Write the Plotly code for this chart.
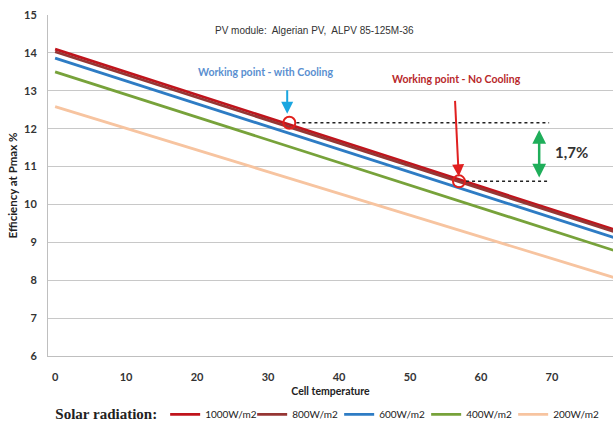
import numpy as np
import plotly.graph_objects as go

temps = [0, 10, 20, 30, 40, 50, 60, 70, 80]
eff_1000 = [14.10, 13.50, 12.89, 12.29, 11.68, 11.08, 10.47, 9.87, 9.26]
eff_800 = [14.03, 13.43, 12.82, 12.22, 11.62, 11.02, 10.41, 9.81, 9.21]
eff_600 = [13.86, 13.26, 12.66, 12.06, 11.46, 10.86, 10.25, 9.65, 9.05]
eff_400 = [13.50, 12.90, 12.30, 11.70, 11.10, 10.50, 9.90, 9.31, 8.71]
eff_200 = [12.58, 12.01, 11.43, 10.86, 10.29, 9.72, 9.14, 8.57, 8.00]

series_names = ["1000W/m2", "800W/m2", "600W/m2", "400W/m2", "200W/m2"]
series_vals = [eff_1000, eff_800, eff_600, eff_400, eff_200]
series_colors = ["#c0141c", "#963634", "#2e7cc4", "#77a23a", "#f7c4a0"]

wp_cool_T = 33.0
wp_nocool_T = 56.9
wp_cool_E = float(np.interp(wp_cool_T, temps, eff_1000)) + 0.05
wp_nocool_E = float(np.interp(wp_nocool_T, temps, eff_1000)) - 0.05
diff_label = "1,7%"
marker_end_T = 69.6
diff_T = 68.2

FONT = "Lato, Open Sans, Liberation Sans, sans-serif"

fig = go.Figure()
for name, vals, col in zip(series_names, series_vals, series_colors):
    fig.add_trace(go.Scatter(x=temps, y=vals, mode="lines", name=name,
                             line=dict(color=col, width=2.8)))

# working points (circles)
fig.add_trace(go.Scatter(x=[wp_cool_T, wp_nocool_T], y=[wp_cool_E, wp_nocool_E],
                         mode="markers", showlegend=False,
                         marker=dict(symbol="circle-open", size=12,
                                     color="#e0201c", line=dict(width=2, color="#e0201c"))))

# dotted reference lines
for T0, E0 in [(wp_cool_T, wp_cool_E), (wp_nocool_T, wp_nocool_E)]:
    fig.add_shape(type="line", x0=T0 + 1, x1=marker_end_T, y0=E0, y1=E0,
                  xref="x", yref="y", line=dict(color="#222222", width=1.5, dash="dot"))

ann_font = dict(family=FONT, size=10.5, weight=700)
fig.add_annotation(x=36.6, y=14.6, xref="x", yref="y", showarrow=False,
                   text="PV module:  Algerian PV,  ALPV 85-125M-36",
                   font=dict(family="Liberation Sans, Arial, sans-serif", size=10, color="#333333"))
fig.add_annotation(x=29.6, y=13.49, xref="x", yref="y", showarrow=False,
                   text="Working point - with Cooling",
                   font=dict(ann_font, color="#5a8fd0"))
fig.add_annotation(x=56.5, y=13.31, xref="x", yref="y", showarrow=False,
                   text="Working point - No Cooling",
                   font=dict(ann_font, color="#b8282a"))
# arrows
fig.add_annotation(x=wp_cool_T - 0.3, y=wp_cool_E, xref="x", yref="y", text="",
                   showarrow=True, ax=0, ay=-34, standoff=9, arrowhead=2,
                   arrowsize=1.2, arrowwidth=2, arrowcolor="#1aa6e0")
fig.add_annotation(x=wp_nocool_T, y=wp_nocool_E, xref="x", yref="y", text="",
                   showarrow=True, ax=-4, ay=-82, standoff=5, arrowhead=2,
                   arrowsize=1.2, arrowwidth=2, arrowcolor="#e02020")
fig.add_annotation(x=diff_T, y=wp_nocool_E + 0.1, xref="x", yref="y",
                   ax=diff_T, ay=wp_cool_E - 0.15, axref="x", ayref="y", text="",
                   showarrow=True, arrowhead=2, startarrowhead=2, arrowside="end+start",
                   arrowsize=1.1, arrowwidth=2.5, arrowcolor="#1fae5a")
fig.add_annotation(x=72.8, y=11.38, xref="x", yref="y", showarrow=False,
                   text=diff_label,
                   font=dict(family=FONT, size=15, weight=700, color="#333333"))

tick_font = dict(family=FONT, size=11, weight=700, color="#333333")
fig.update_layout(
    width=613, height=425,
    margin=dict(l=48, r=0, t=15, b=69),
    paper_bgcolor="white", plot_bgcolor="white",
    xaxis=dict(range=[-1, 78.6], tickvals=[0, 10, 20, 30, 40, 50, 60, 70],
               showgrid=False, showline=True, linecolor="#bfbfbf", linewidth=1,
               ticks="", tickfont=tick_font, zeroline=False, ticklabelstandoff=11,
               title=dict(text="Cell temperature", standoff=5,
                          font=dict(family=FONT, size=10.5, weight=700, color="#222222"))),
    yaxis=dict(range=[6, 15], dtick=1, showgrid=True, gridcolor="#c8c8c8",
               showline=True, linecolor="#bfbfbf", linewidth=1, ticks="",
               tickfont=tick_font, zeroline=False, ticklabelstandoff=8,
               title=dict(text="Efficiency at Pmax %", standoff=4,
                          font=dict(family=FONT, size=11.5, weight=700, color="#222222"))),
    legend=dict(orientation="h", xref="container", yref="container",
                x=0.087, xanchor="left", y=0.024, yanchor="middle",
                title=dict(text="Solar radiation:",
                           font=dict(family="Liberation Serif, Times New Roman, serif",
                                     size=15, weight=700, color="#222222")),
                font=dict(family=FONT, size=10, color="#222222"),
                itemwidth=30, tracegroupgap=0, bgcolor="rgba(0,0,0,0)",
                entrywidth=42, entrywidthmode="pixels"),
    showlegend=True,
)

fig.write_html("out.html")
